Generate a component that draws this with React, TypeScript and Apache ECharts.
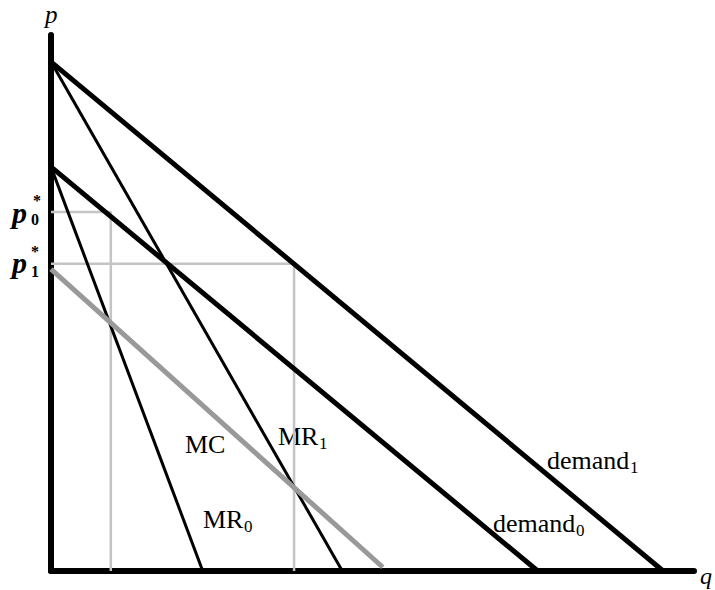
import React, { useEffect, useRef } from "react";
import * as echarts from "echarts";

// Curves as [q, p] end points (q axis 0..100, p axis 0..100)
const demand1 = [[0, 95], [95.2, 0]];
const demand0 = [[0, 75.4], [75.7, 0]];
const mr1 = [[0, 95], [45.3, 0]];
const mr0 = [[0, 75.4], [23.6, 0]];
const mc = [[0, 56.3], [51.6, 0.7]];
// Equilibrium guide lines
const guide0 = [[0, 67], [9.3, 67], [9.3, 0]];
const guide1 = [[0, 57.3], [37.8, 57.3], [37.8, 0]];

const SERIF = '"Liberation Serif", "Times New Roman", serif';

function txt(text: string, x: number, y: number, size: number, style = "normal", weight = "normal") {
  return {
    type: "text",
    silent: true,
    style: {
      text,
      x,
      y,
      fill: "#000",
      font: `${style} ${weight} ${size}px ${SERIF}`,
      textAlign: "left",
      textVerticalAlign: "middle",
    },
  };
}

export default function App() {
  const ref = useRef<HTMLDivElement>(null);
  useEffect(() => {
    if (!ref.current) return;
    const chart = echarts.init(ref.current, undefined, { renderer: "svg" });
    const line = (data: number[][], color: string, width: number) => ({
      type: "line",
      data,
      symbol: "none",
      silent: true,
      clip: false,
      lineStyle: { color, width, cap: "butt" },
    });
    chart.setOption({
      animation: false,
      backgroundColor: "#fff",
      grid: { left: 51, top: 35, width: 643, height: 536 },
      xAxis: {
        type: "value",
        min: 0,
        max: 100,
        axisLine: { show: true, lineStyle: { color: "#000", width: 6 } },
        axisTick: { show: false },
        axisLabel: { show: false },
        splitLine: { show: false },
      },
      yAxis: {
        type: "value",
        min: 0,
        max: 100,
        axisLine: { show: true, lineStyle: { color: "#000", width: 6 } },
        axisTick: { show: false },
        axisLabel: { show: false },
        splitLine: { show: false },
      },
      series: [
        line(guide0, "#c4c4c4", 2.5),
        line(guide1, "#c4c4c4", 2.5),
        line(demand1, "#000", 5),
        line(demand0, "#000", 5),
        line(mr1, "#000", 3),
        line(mr0, "#000", 3),
        line(mc, "#999999", 5),
      ],
      graphic: [
        txt("p", 45, 14, 25, "italic"),
        txt("q", 700, 575.5, 24, "italic"),
        txt("MC", 185, 444, 26),
        txt("MR", 278, 436, 26),
        txt("1", 319, 443, 17),
        txt("MR", 203, 519, 26),
        txt("0", 244, 526, 17),
        txt("demand", 547, 460, 26),
        txt("1", 630, 467, 17),
        txt("demand", 493, 523, 26),
        txt("0", 576, 530, 17),
        txt("p", 12, 212, 30, "italic", "bold"),
        txt("0", 31, 219, 16, "normal", "bold"),
        txt("*", 33, 200, 16, "normal", "bold"),
        txt("p", 12, 262, 30, "italic", "bold"),
        txt("1", 31, 271, 16, "normal", "bold"),
        txt("*", 31, 251, 16, "normal", "bold"),
      ],
    });
    return () => chart.dispose();
  }, []);
  return (
    <div
      ref={ref}
      style={{ position: "absolute", left: 0, top: 0, width: 715, height: 590, background: "#fff" }}
    />
  );
}
